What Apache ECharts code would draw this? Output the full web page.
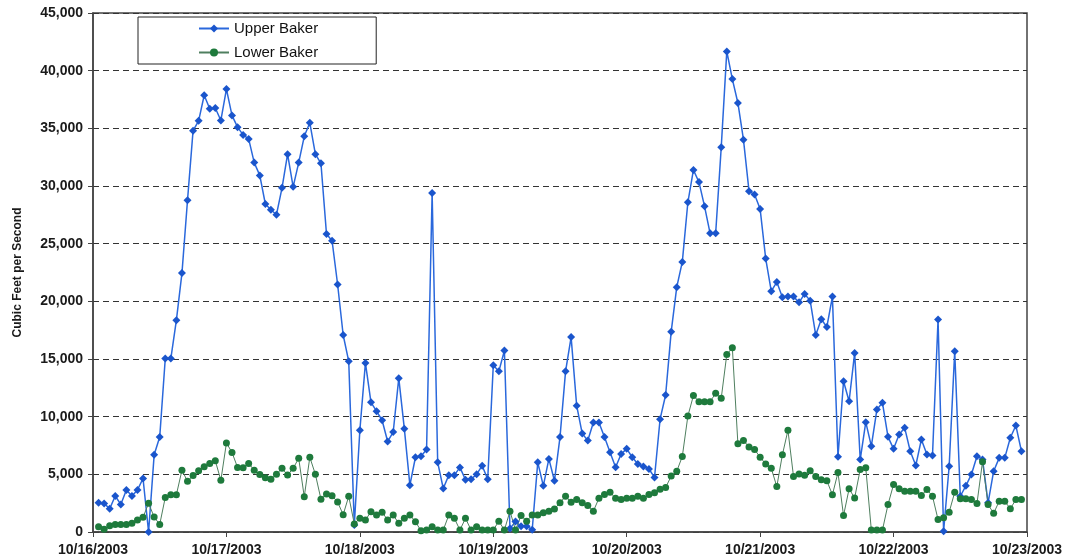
<!DOCTYPE html>
<html>
<head>
<meta charset="utf-8">
<script src="https://cdn.jsdelivr.net/npm/echarts/dist/echarts.min.js"></script>
<style>
  html, body { margin: 0; padding: 0; background: #fff; }
  #chart { width: 1068px; height: 560px; }
</style>
</head>
<body>
<div id="chart"></div>
<script>
// Tick labels for the x axis (one per day, midnight)
const dateLabels = ['10/16/2003', '10/17/2003', '10/18/2003', '10/19/2003', '10/20/2003', '10/21/2003', '10/22/2003', '10/23/2003'];

// Hourly readings start at hour 1 of 10/16/2003
const firstHour = 1;

// Upper Baker, cubic feet per second (hours 1..167)
const upperBaker = [
  2540, 2480, 2015, 3120, 2390, 3650, 3120, 3650, 4640, 0,
  6690, 8230, 15040, 15040, 18370, 22450, 28760, 34800, 35650, 37870,
  36700, 36760, 35680, 38400, 36120, 35100, 34430, 34080, 32030, 30920,
  28440, 27940, 27510, 29840, 32760, 29930, 32030, 34310, 35480, 32760,
  31970, 25840, 25260, 21460, 17080, 14800, 600, 8820, 14660, 11240,
  10480, 9690, 7850, 8670, 13340, 8960, 4060, 6480, 6570, 7150,
  29400, 6040, 3770, 4930, 4930, 5600, 4530, 4580, 5000, 5750,
  4580, 14450, 13930, 15740, 300, 900, 500, 500, 200, 6040,
  4000, 6340, 4440, 8230, 13930, 16900, 10950, 8530, 7940, 9490,
  9490, 8230, 6920, 5610, 6770, 7210, 6480, 5900, 5690, 5460,
  4730, 9780, 11880, 17370, 21230, 23420, 28590, 31390, 30340, 28240,
  25900, 25900, 33350, 41670, 39270, 37200, 34020, 29550, 29260, 28000,
  23710, 20880, 21670, 20350, 20410, 20410, 19910, 20640, 20060, 17080,
  18450, 17780, 20410, 6520, 13070, 11340, 15530, 6280, 9520, 7440,
  10620, 11200, 8250, 7210, 8450, 9030, 7000, 5770, 8020, 6720,
  6630, 18420, 70, 5700, 15680, 3100, 4000, 4990, 6570, 6290,
  2530, 5270, 6430, 6430, 8170, 9230, 7000
];

// Lower Baker, cubic feet per second (hours 1..167)
const lowerBaker = [
  460, 230, 550, 650, 650, 650, 750, 1040, 1270, 2490,
  1300, 650, 3000, 3240, 3240, 5350, 4400, 4900, 5300, 5650,
  5930, 6180, 4480, 7720, 6900, 5600, 5580, 5950, 5350, 4980,
  4700, 4580, 5000, 5520, 4940, 5520, 6390, 3060, 6480, 5000,
  2850, 3300, 3150, 2600, 1500, 3100, 700, 1190, 1040, 1760,
  1470, 1720, 1040, 1470, 750, 1190, 1470, 890, 110, 170,
  460, 170, 170, 1470, 1190, 170, 1190, 170, 460, 170,
  170, 170, 940, 170, 1800, 170, 1430, 940, 1470, 1470,
  1660, 1800, 2000, 2530, 3110, 2570, 2820, 2530, 2290, 1800,
  2920, 3250, 3450, 2920, 2820, 2920, 2920, 3100, 2920, 3250,
  3400, 3700, 3850, 4850, 5270, 6550, 10050, 11830, 11300, 11300,
  11300, 12030, 11590, 15390, 15970, 7650, 7940, 7360, 7150, 6480,
  5900, 5520, 3940, 6690, 8820, 4820, 5020, 4930, 5310, 4820,
  4530, 4440, 3230, 5150, 1420, 3750, 2950, 5420, 5560, 170,
  170, 170, 2380, 4120, 3750, 3540, 3540, 3540, 3160, 3680,
  3100, 1080, 1230, 1720, 3450, 2880, 2880, 2820, 2470, 6100,
  2380, 1620, 2670, 2670, 2010, 2820, 2820
];

const FONT = "'Liberation Sans', Arial, sans-serif";
const toPairs = arr => arr.map((v, i) => [firstHour + i, v]);

const chart = echarts.init(document.getElementById('chart'), null, { renderer: 'canvas' });
chart.setOption({
  animation: false,
  backgroundColor: '#ffffff',
  grid: {
    left: 93, right: 41, top: 13, bottom: 28,
    show: true, borderColor: '#444', borderWidth: 1.5, backgroundColor: 'transparent'
  },
  legend: {
    data: ['Upper Baker', 'Lower Baker'],
    orient: 'vertical',
    left: 138, top: 17,
    padding: [4, 58, 4, 60],
    itemWidth: 30, itemHeight: 10, itemGap: 9,
    borderColor: '#222', borderWidth: 1, backgroundColor: '#fff',
    textStyle: { fontSize: 15, color: '#111', fontFamily: FONT }
  },
  xAxis: {
    type: 'value', min: 0, max: 168, interval: 24,
    axisLine: { show: true, lineStyle: { color: '#444', width: 1.5 } },
    axisTick: { show: true, length: 5, lineStyle: { color: '#444' } },
    splitLine: { show: false },
    axisLabel: {
      showMinLabel: true, showMaxLabel: true,
      formatter: v => dateLabels[Math.round(v / 24)] || '',
      fontSize: 14, fontWeight: 'bold', color: '#1a1a1a', fontFamily: FONT, margin: 11
    }
  },
  yAxis: {
    type: 'value', min: 0, max: 45000, interval: 5000,
    name: 'Cubic Feet per Second', nameLocation: 'middle', nameGap: 69,
    nameTextStyle: { fontSize: 12, fontWeight: 'bold', color: '#1a1a1a', fontFamily: FONT },
    axisLine: { show: true, lineStyle: { color: '#444', width: 1.5 } },
    axisTick: { show: true, length: 5, lineStyle: { color: '#444' } },
    splitLine: { show: true, lineStyle: { type: [6, 4], color: '#333', width: 1.2 } },
    axisLabel: {
      formatter: v => v.toLocaleString('en-US'),
      fontSize: 14, fontWeight: 'bold', color: '#1a1a1a', fontFamily: FONT, margin: 10
    }
  },
  series: [
    {
      name: 'Upper Baker', type: 'line', data: toPairs(upperBaker),
      symbol: 'diamond', symbolSize: 8, showAllSymbol: true,
      lineStyle: { color: '#2a68dc', width: 1.5 },
      itemStyle: { color: '#1a55cc' }
    },
    {
      name: 'Lower Baker', type: 'line', data: toPairs(lowerBaker),
      symbol: 'circle', symbolSize: 7, showAllSymbol: true,
      lineStyle: { color: '#4f7f5f', width: 1 },
      itemStyle: { color: '#1e7a3c' }
    }
  ]
});
</script>
</body>
</html>
